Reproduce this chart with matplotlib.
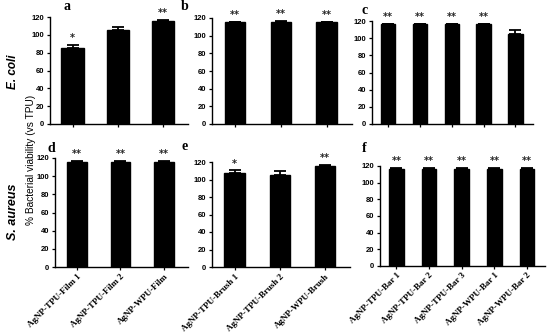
import numpy as np
import matplotlib
matplotlib.use("Agg")
from matplotlib import pyplot as plt

# data
labels_film = ["AgNP-TPU-Film 1", "AgNP-TPU-Film 2", "AgNP-WPU-Film"]
labels_brush = ["AgNP-TPU-Brush 1", "AgNP-TPU-Brush 2", "AgNP-WPU-Brush"]
labels_bar = ["AgNP-TPU-Bar 1", "AgNP-TPU-Bar 2", "AgNP-TPU-Bar 3",
              "AgNP-WPU-Bar 1", "AgNP-WPU-Bar 2"]

ecoli_film = [85, 105, 116]
ecoli_film_err = [4, 4, 1]
ecoli_film_sig = ["*", "", "**"]

ecoli_brush = [115, 116, 115]
ecoli_brush_err = [1, 1, 1]
ecoli_brush_sig = ["**", "**", "**"]

ecoli_bar = [116, 116, 116, 116, 105]
ecoli_bar_err = [1, 1, 1, 1, 5]
ecoli_bar_sig = ["**", "**", "**", "**", ""]

saureus_film = [116, 116, 116]
saureus_film_err = [1, 1, 1]
saureus_film_sig = ["**", "**", "**"]

saureus_brush = [108, 105, 116]
saureus_brush_err = [3, 5, 1]
saureus_brush_sig = ["*", "", "**"]

saureus_bar = [117, 117, 117, 117, 117]
saureus_bar_err = [1, 1, 1, 1, 1]
saureus_bar_sig = ["**", "**", "**", "**", "**"]

W, H = 550, 336
fig = plt.figure(figsize=(W / 100, H / 100), dpi=100)


def box(x0, x1, ytop, ybot):
    # pixel box -> figure fraction
    return [x0 / W, (H - ybot) / H, (x1 - x0) / W, (ybot - ytop) / H]


def panel(rect, vals, errs, sigs, letter, lpos, names=None, width=0.45):
    ax = fig.add_axes(rect)
    x = np.arange(len(vals))
    ax.bar(x, vals, width=width, color="black", edgecolor="black", zorder=2)
    ax.errorbar(x, vals, yerr=[np.zeros(len(vals)), errs], fmt="none",
                ecolor="black", elinewidth=1.3, capsize=4.5, capthick=1.3, zorder=3)
    for xi, v, e, s in zip(x, vals, errs, sigs):
        if s:
            ax.text(xi, v + e + 1.5, s, ha="center", va="bottom", fontsize=7,
                    fontweight="bold", color="#222222", clip_on=False)
    ax.set_xlim(-0.5, len(vals) - 0.45)
    ax.set_ylim(0, 120)
    ax.set_yticks(range(0, 121, 20))
    ax.set_xticks(x)
    for sp in ["top", "right"]:
        ax.spines[sp].set_visible(False)
    for sp in ["left", "bottom"]:
        ax.spines[sp].set_linewidth(1.0)
    ax.tick_params(axis="both", direction="out", length=2.5, width=0.9, pad=1.5)
    for t in ax.get_yticklabels():
        t.set_fontsize(5.5)
        t.set_fontweight("bold")
        t.set_family("Liberation Sans")
    if names is None:
        ax.set_xticklabels([])
    else:
        ax.set_xticklabels(names, rotation=45, ha="right", rotation_mode="anchor",
                           fontsize=6.5, fontweight="bold", family="Liberation Serif")
    fig.text(lpos[0] / W, 1 - lpos[1] / H, letter, ha="left", va="center",
             fontsize=10, fontweight="bold", family="Liberation Serif")
    return ax


panel(box(50, 188, 17, 124), ecoli_film, ecoli_film_err, ecoli_film_sig, "a", (63, 6),
      width=0.5)
panel(box(212, 352, 18, 124), ecoli_brush, ecoli_brush_err, ecoli_brush_sig, "b", (181, 6))
panel(box(372, 533, 21, 124), ecoli_bar, ecoli_bar_err, ecoli_bar_sig, "c", (362, 10))
panel(box(55, 188, 158, 267), saureus_film, saureus_film_err, saureus_film_sig, "d",
      (47, 148), names=labels_film)
panel(box(212, 350, 162, 267), saureus_brush, saureus_brush_err, saureus_brush_sig, "e",
      (181, 146), names=labels_brush)
panel(box(380, 545, 166, 266), saureus_bar, saureus_bar_err, saureus_bar_sig, "f",
      (362, 149), names=labels_bar)

fig.text(31 / W, 1 - 160 / H, "% Bacterial viability (vs TPU)", rotation=90,
         ha="center", va="center", fontsize=7.3, family="Liberation Sans")
fig.text(13 / W, 1 - 72 / H, "E. coli", rotation=90, ha="center", va="center",
         fontsize=8.5, fontweight="bold", fontstyle="italic", family="Liberation Sans")
fig.text(13 / W, 1 - 212 / H, "S. aureus", rotation=90, ha="center", va="center",
         fontsize=9, fontweight="bold", fontstyle="italic", family="Liberation Sans")

fig.savefig("out.png", dpi=100)
